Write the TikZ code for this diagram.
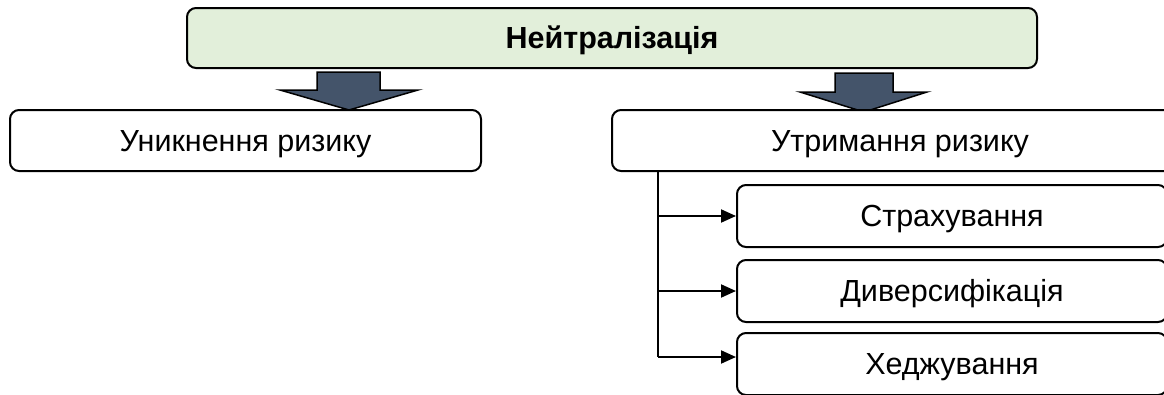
\documentclass[tikz,border=0pt]{standalone}
\usepackage{fontspec}
\setmainfont{Liberation Sans}
\usetikzlibrary{arrows.meta,calc}
\definecolor{topfill}{HTML}{E2EFDA}
\definecolor{arrowfill}{HTML}{44546A}
\begin{document}
\begin{tikzpicture}[x=1pt,y=-1pt,
  box/.style={draw=black, line width=2pt, rounded corners=9pt, fill=white, inner sep=0pt,
    text height=21.8pt, text depth=0pt,
    font=\fontsize{30.5}{33}\selectfont},
  blockarrow/.style={draw=black, line width=1.5pt, fill=arrowfill, line join=miter},
  conn/.style={draw=black, line width=1.3pt},
  arr/.style={draw=black, line width=2pt, -{Triangle[length=15pt,width=13pt]}}]
\useasboundingbox (0,0) rectangle (1164,394);
\clip (0,0) rectangle (1164,394);
% block arrows
\draw[blockarrow] (317,72) -- (380,72) -- (380,90) -- (418,90) -- (349,110) -- (280,90) -- (317,90) -- cycle;
\draw[blockarrow] (835,73) -- (893,73) -- (893,92) -- (927,92) -- (864,112) -- (800,92) -- (835,92) -- cycle;
% boxes
\node[box, fill=topfill, minimum width=850pt, minimum height=60pt, font=\fontsize{30.5}{33}\selectfont\bfseries] (top) at (612,38) {Нейтралізація};
\node[box, minimum width=471pt, minimum height=61pt] (avoid) at (245.5,140.5) {Уникнення ризику};
\node[box, minimum width=576pt, minimum height=61pt] (keep) at (900,140.5) {Утримання ризику};
\node[box, minimum width=430pt, minimum height=62pt] (s1) at (952,216) {Страхування};
\node[box, minimum width=430pt, minimum height=62pt] (s2) at (952,291) {Диверсифікація};
\node[box, minimum width=430pt, minimum height=62pt] (s3) at (952,364) {Хеджування};
% connectors
\coordinate (trunk) at (658,171);
\coordinate (t3) at ($(s3.west)+(0,-7)$);
\draw[conn] (trunk) -- (trunk |- t3);
\draw[arr] (trunk |- s1.west) -- (s1.west);
\draw[arr] (trunk |- s2.west) -- (s2.west);
\draw[arr] (trunk |- t3) -- (t3);
\end{tikzpicture}
\end{document}
